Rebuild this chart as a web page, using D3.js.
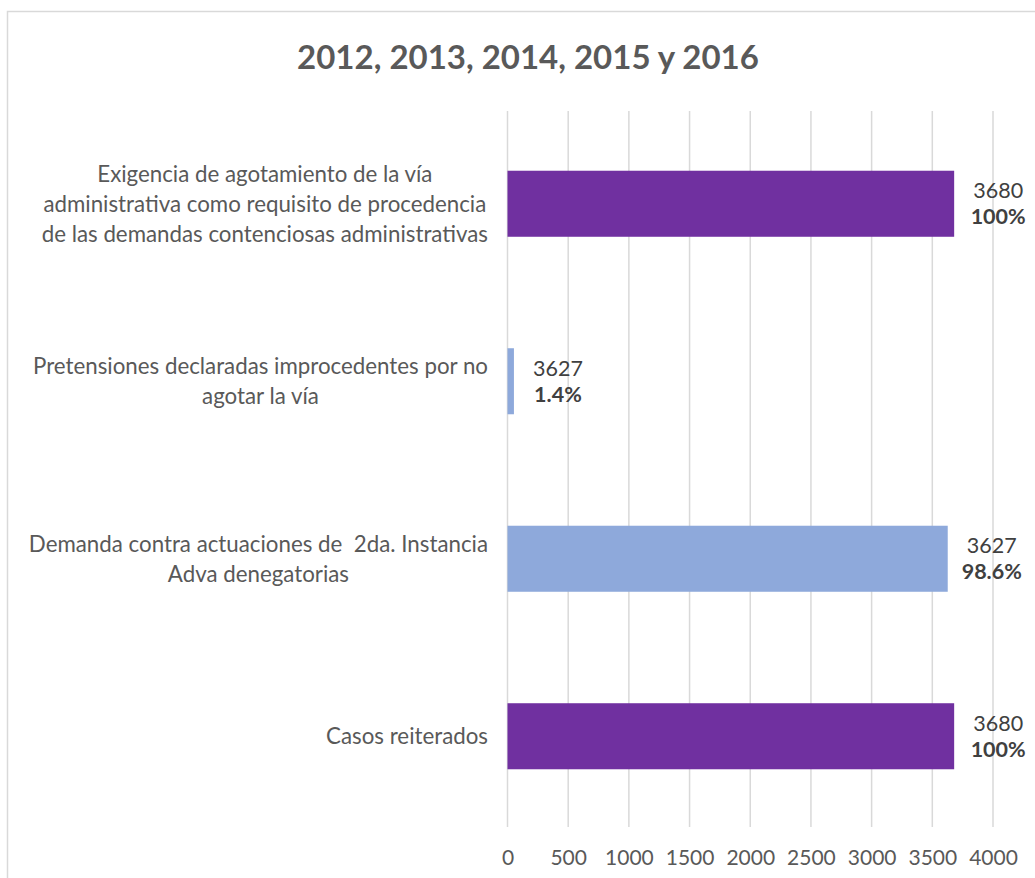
<!DOCTYPE html>
<html>
<head>
<meta charset="utf-8">
<script src="https://cdn.jsdelivr.net/npm/d3@7"></script>
<style>
  html, body { margin: 0; padding: 0; background: #fff; }
  svg { display: block; font-family: Lato, "Open Sans", sans-serif; }
  svg text { white-space: pre; }
</style>
</head>
<body>
<svg id="chart" width="1035" height="878"></svg>
<script>
// chart data, top to bottom
const categories = [
  ["Exigencia de agotamiento de la vía", "administrativa como requisito de procedencia", "de las demandas contenciosas administrativas"],
  ["Pretensiones declaradas improcedentes por no", "agotar la vía"],
  ["Demanda contra actuaciones de  2da. Instancia", "Adva denegatorias"],
  ["Casos reiterados"]
];
const values = [3680, 53, 3627, 3680];
const valueLabels = ["3680", "3627", "3627", "3680"];
const percentLabels = ["100%", "1.4%", "98.6%", "100%"];
const barColors = ["#7030A0", "#8EA9DB", "#8EA9DB", "#7030A0"];
const xTicks = [0, 500, 1000, 1500, 2000, 2500, 3000, 3500, 4000];
const title = "2012, 2013, 2014, 2015 y 2016";

const svg = d3.select("#chart");
const textColor = "#595959";
const labelColor = "#404040";

// outer chart frame (runs off the right and bottom edges)
svg.append("rect")
  .attr("x", 7.5).attr("y", 11.5)
  .attr("width", 1060).attr("height", 900)
  .attr("fill", "#fff")
  .attr("stroke", "#d9d9d9")
  .attr("stroke-width", 1.5);

svg.append("text")
  .attr("x", 528).attr("y", 69)
  .attr("text-anchor", "middle")
  .attr("fill", textColor)
  .style("font-size", "33px")
  .style("font-weight", "bold")
  .text(title);

const x = d3.scaleLinear().domain([0, 4000]).range([507.5, 993]);
const y = d3.scaleBand()
  .domain(d3.range(categories.length))
  .range([115, 825])
  .paddingInner(0.628)
  .paddingOuter(0.314);

// gridlines
svg.append("g")
  .selectAll("line")
  .data(xTicks)
  .join("line")
  .attr("x1", d => x(d)).attr("x2", d => x(d))
  .attr("y1", 111).attr("y2", 827)
  .attr("stroke", "#d9d9d9")
  .attr("stroke-width", 1.5);

// axis tick labels
const xAxis = d3.axisBottom(x)
  .tickValues(xTicks)
  .tickFormat(d3.format("d"))
  .tickSize(0)
  .tickPadding(0);
const axisG = svg.append("g")
  .attr("transform", "translate(0,850)")
  .call(xAxis);
axisG.select(".domain").remove();
axisG.selectAll("text")
  .attr("fill", textColor)
  .attr("dy", "0.71em")
  .style("font-size", "21px")
  .style("font-family", "Lato, 'Open Sans', sans-serif");

// bars
svg.append("g")
  .selectAll("rect")
  .data(values)
  .join("rect")
  .attr("x", x(0))
  .attr("y", (d, i) => y(i))
  .attr("width", d => x(d) - x(0))
  .attr("height", y.bandwidth())
  .attr("fill", (d, i) => barColors[i]);

// data labels
const dl = svg.append("g")
  .selectAll("g")
  .data(values)
  .join("g")
  .attr("transform", (d, i) => `translate(${x(d) + 44},${y(i) + y.bandwidth() / 2})`);
dl.append("text")
  .attr("text-anchor", "middle")
  .attr("y", -13).attr("dy", "0.35em")
  .attr("fill", labelColor)
  .style("font-size", "21.5px")
  .text((d, i) => valueLabels[i]);
dl.append("text")
  .attr("text-anchor", "middle")
  .attr("y", 13).attr("dy", "0.35em")
  .attr("fill", labelColor)
  .style("font-size", "21.5px")
  .style("font-weight", "bold")
  .text((d, i) => percentLabels[i]);

// category labels: centred block, right edge at 488
const lineH = 30;
categories.forEach((lines, i) => {
  const g = svg.append("g");
  const cy = y(i) + y.bandwidth() / 2;
  const texts = lines.map((s, k) => g.append("text")
    .attr("text-anchor", "middle")
    .attr("y", cy + (k - (lines.length - 1) / 2) * lineH)
    .attr("dy", "0.35em")
    .attr("fill", textColor)
    .style("font-size", "22.3px")
    .text(s));
  const w = d3.max(texts, t => t.node().getComputedTextLength());
  texts.forEach(t => t.attr("x", 488 - w / 2));
});
</script>
</body>
</html>
